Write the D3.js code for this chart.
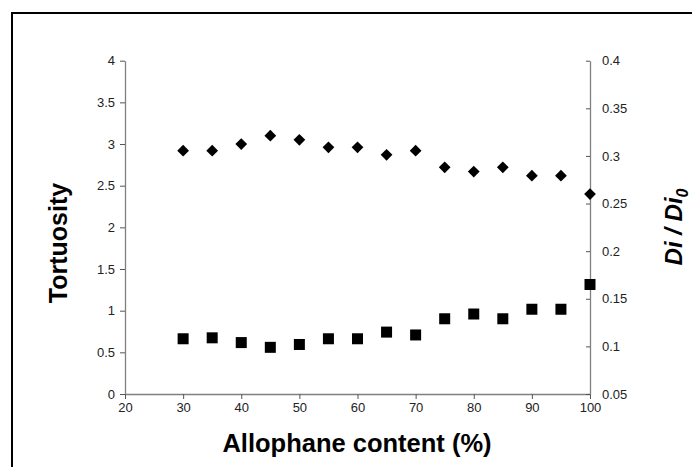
<!DOCTYPE html>
<html>
<head>
<meta charset="utf-8">
<script src="https://cdn.jsdelivr.net/npm/d3@7"></script>
<style>
  body { margin: 0; background: #fff; }
  svg { display: block; font-family: Arial, "Liberation Sans", sans-serif; }
</style>
</head>
<body>
<svg id="chart" width="692" height="467"></svg>
<script>
// allophane content (%)
var allophane = [30, 35, 40, 45, 50, 55, 60, 65, 70, 75, 80, 85, 90, 95, 100];
// tortuosity (left axis)
var tortuosity = [2.92, 2.92, 3.00, 3.10, 3.05, 2.96, 2.96, 2.87, 2.92, 2.72, 2.67, 2.72, 2.62, 2.62, 2.40];
// Di / Di0 (right axis)
var diRatio = [0.108, 0.109, 0.104, 0.099, 0.102, 0.108, 0.108, 0.115, 0.112, 0.129, 0.134, 0.129, 0.139, 0.139, 0.165];

var xTicks = [20, 30, 40, 50, 60, 70, 80, 90, 100];
var leftTicks = [0, 0.5, 1, 1.5, 2, 2.5, 3, 3.5, 4];
var rightTicks = [0.05, 0.1, 0.15, 0.2, 0.25, 0.3, 0.35, 0.4];

var svg = d3.select('#chart');

// outer frame (runs off the right and bottom edges)
svg.append('rect')
  .attr('x', 12).attr('y', 13)
  .attr('width', 720).attr('height', 500)
  .attr('fill', 'none')
  .attr('stroke', '#000')
  .attr('stroke-width', 2);

var x = d3.scaleLinear().domain([20, 100]).range([125, 590]);
var yL = d3.scaleLinear().domain([0, 4]).range([394, 60.7]);
var yR = d3.scaleLinear().domain([0.05, 0.4]).range([394, 60.7]);

var axisColor = '#808080';

function styleAxis(g) {
  g.select('.domain').attr('stroke', axisColor).attr('stroke-width', 1.3);
  g.selectAll('.tick line').attr('stroke', '#555');
  g.selectAll('.tick text')
    .attr('fill', '#222')
    .style('font-size', '13px');
}

// x axis
var gx = svg.append('g')
  .attr('transform', 'translate(0,394)')
  .call(d3.axisBottom(x).tickValues(xTicks).tickSize(5).tickSizeOuter(0).tickPadding(4)
    .tickFormat(d3.format('d')));
styleAxis(gx);

// left axis
var gl = svg.append('g')
  .attr('transform', 'translate(125,0)')
  .call(d3.axisLeft(yL).tickValues(leftTicks).tickSize(5).tickSizeOuter(0).tickPadding(5)
    .tickFormat(function(d) { return String(d); }));
styleAxis(gl);

// right axis, ticks on the inside
var gr = svg.append('g')
  .attr('transform', 'translate(590,0)')
  .call(d3.axisRight(yR).tickValues(rightTicks).tickSize(0).tickSizeOuter(0).tickPadding(12)
    .tickFormat(function(d) { return String(d); }));
styleAxis(gr);
gr.selectAll('.tick line').attr('x1', -4).attr('x2', 0);

// diamonds: tortuosity
svg.append('g').selectAll('path')
  .data(allophane)
  .enter()
  .append('path')
  .attr('d', d3.symbol().type(d3.symbolDiamond2).size(88))
  .attr('transform', function(d, i) {
    return 'translate(' + x(d) + ',' + yL(tortuosity[i]) + ')';
  })
  .attr('fill', '#000');

// squares: Di / Di0
svg.append('g').selectAll('rect')
  .data(allophane)
  .enter()
  .append('rect')
  .attr('x', function(d) { return x(d) - 5.5; })
  .attr('y', function(d, i) { return yR(diRatio[i]) - 5.5; })
  .attr('width', 11)
  .attr('height', 11)
  .attr('fill', '#000');

// axis titles
svg.append('text')
  .attr('transform', 'translate(67,243) rotate(-90)')
  .attr('text-anchor', 'middle')
  .style('font-size', '25px')
  .style('font-weight', 'bold')
  .text('Tortuosity');

svg.append('text')
  .attr('x', 357)
  .attr('y', 452)
  .attr('text-anchor', 'middle')
  .style('font-size', '25.5px')
  .style('font-weight', 'bold')
  .text('Allophane content (%)');

var rt = svg.append('text')
  .attr('transform', 'translate(682,227) rotate(-90)')
  .attr('text-anchor', 'middle')
  .style('font-size', '24px')
  .style('font-weight', 'bold')
  .style('font-style', 'italic');
rt.append('tspan').text('Di / Di');
rt.append('tspan').attr('dy', 6).style('font-size', '16px').text('0');
</script>
</body>
</html>
